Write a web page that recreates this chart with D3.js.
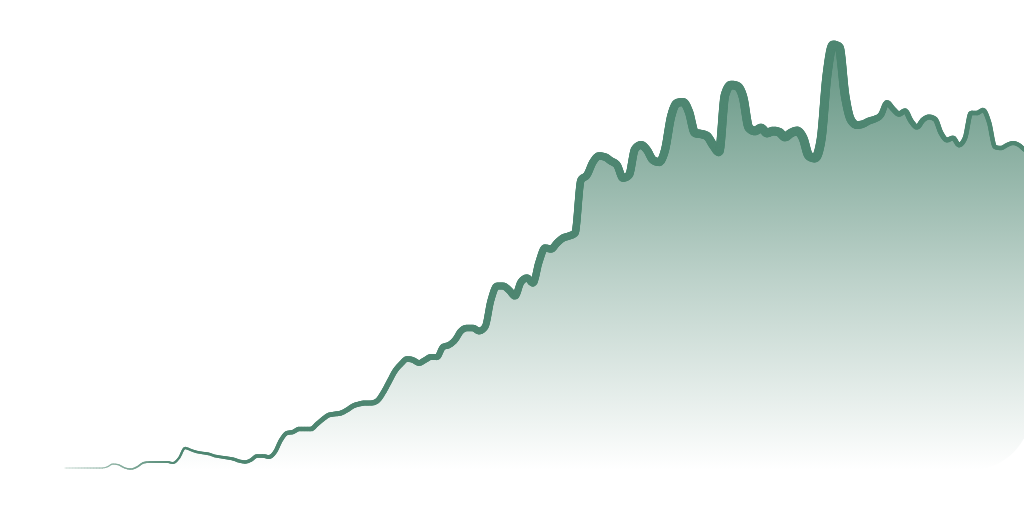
<!DOCTYPE html>
<html>
<head>
<meta charset="utf-8">
<script src="https://cdn.jsdelivr.net/npm/d3@7"></script>
<style>
	html, body { margin: 0; padding: 0; background: #fff; }
	svg { display: block; }
</style>
</head>
<body>
<div id="chart"></div>
<script>
// one reading every step, left to right
var steps = d3.range(162);
var values = [
	2, 2, 2, 2, 2, 2, 2, 3, 6, 5, 2, 1, 3, 7, 8, 8, 8, 8, 7, 12,
	22, 20, 18, 17, 16, 14, 13, 12, 11, 9, 8, 10, 14, 14, 13, 18, 30, 37, 38, 41,
	41, 41, 46, 51, 55, 56, 57, 60, 64, 66, 67, 67, 69, 77, 88, 99, 106, 111, 110, 107,
	110, 113, 113, 123, 125, 130, 139, 142, 142, 139, 143, 170, 184, 184, 180, 174, 188, 192, 187, 208,
	222, 221, 227, 232, 234, 237, 290, 295, 308, 314, 313, 309, 305, 292, 295, 321, 325, 320, 310, 308,
	320, 353, 367, 368, 358, 337, 336, 334, 325, 318, 375, 385, 384, 373, 342, 339, 342, 337, 339, 338,
	333, 337, 339, 332, 314, 312, 330, 395, 425, 423, 375, 350, 345, 346, 349, 351, 355, 367, 361, 356,
	359, 349, 343, 350, 353, 351, 337, 330, 332, 325, 332, 357, 357, 360, 348, 323, 322, 325, 327, 325,
	320, 318
];

var width = 1024, height = 512;
var lineColor = "#4e8671";

var svg = d3.select("#chart").append("svg")
	.attr("width", width)
	.attr("height", height);

var x = d3.scaleLinear().domain([0, steps.length - 1]).range([65, 1031]);
var y = d3.scaleLinear().domain([0, 430]).range([470, 40]);

/* stroke grows along the line, peaks at the spike, then eases off */
var strokeW = d3.scaleLinear()
	.domain([65, 110, 200, 300, 400, 500, 600, 700, 840, 890, 1031])
	.range([0.8, 1.2, 2.5, 4.5, 5.5, 7, 7.5, 8.5, 9, 5.5, 4])
	.clamp(true);
var strokeC = d3.scaleLinear()
	.domain([65, 110, 180])
	.range(["#c9dbd4", "#8fb3a5", lineColor])
	.clamp(true);

var defs = svg.append("defs");
var grad = defs.append("linearGradient")
	.attr("id", "fade")
	.attr("gradientUnits", "userSpaceOnUse")
	.attr("x1", 0).attr("x2", 0)
	.attr("y1", y(430)).attr("y2", y(0));
grad.append("stop").attr("offset", "0%").attr("stop-color", lineColor).attr("stop-opacity", 0.9);
grad.append("stop").attr("offset", "55%").attr("stop-color", lineColor).attr("stop-opacity", 0.38);
grad.append("stop").attr("offset", "100%").attr("stop-color", lineColor).attr("stop-opacity", 0);

defs.append("clipPath").attr("id", "corner")
	.append("rect")
	.attr("x", -100).attr("y", -100)
	.attr("width", 1131).attr("height", 570)
	.attr("rx", 60).attr("ry", 60);

var area = d3.area()
	.x(function (d, i) { return x(i); })
	.y0(y(0))
	.y1(function (d) { return y(d); })
	.curve(d3.curveMonotoneX);

svg.append("path")
	.datum(values)
	.attr("d", area)
	.attr("fill", "url(#fade)")
	.attr("clip-path", "url(#corner)");

var line = d3.line()
	.x(function (d, i) { return x(i); })
	.y(function (d) { return y(d); })
	.curve(d3.curveMonotoneX);

var guide = svg.append("path")
	.datum(values)
	.attr("d", line)
	.attr("fill", "none")
	.attr("stroke", "none");

// walk the curve and lay it down in short pieces so the width can change
var node = guide.node(),
	total = node.getTotalLength(),
	pts = [];
for (var l = 0; l <= total; l += 1.5) pts.push(node.getPointAtLength(l));
pts.push(node.getPointAtLength(total));

var segs = d3.pairs(pts);
svg.append("g")
	.attr("stroke-linecap", "round")
	.selectAll("line")
	.data(segs)
	.join("line")
	.attr("x1", function (d) { return d[0].x; })
	.attr("y1", function (d) { return d[0].y; })
	.attr("x2", function (d) { return d[1].x; })
	.attr("y2", function (d) { return d[1].y; })
	.attr("stroke", function (d) { return strokeC(d[0].x); })
	.attr("stroke-width", function (d) { return strokeW(d[0].x); });
</script>
</body>
</html>
